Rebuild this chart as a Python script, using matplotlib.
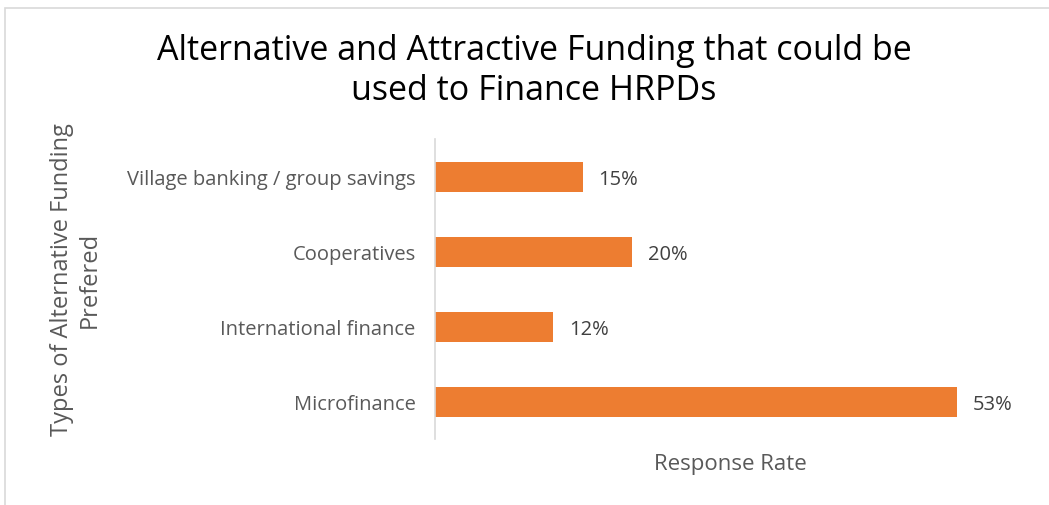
import matplotlib.pyplot as plt
from matplotlib.patches import Rectangle

categories = ["Microfinance", "International finance", "Cooperatives", "Village banking / group savings"]
values = [0.53, 0.12, 0.20, 0.15]
value_labels = ["53%", "12%", "20%", "15%"]

plt.rcParams['font.family'] = ['Open Sans', 'DejaVu Sans']

W, H = 1049, 506
fig = plt.figure(figsize=(W / 100, H / 100), dpi=100)

# chart border (light gray frame)
fig.patches.append(Rectangle((5 / W, -0.01), 1.1, 1 - 9 / H + 0.01, transform=fig.transFigure,
                             fill=False, edgecolor="#d9d9d9", linewidth=1.2))

ax = fig.add_axes([435 / W, 1 - 440 / H, 591 / W, 300 / H])
ax.barh(range(len(categories)), values, height=0.4, color="#ed7d31")
ax.set_xlim(0, 0.6)
ax.set_ylim(-0.5, 3.5)

for i, (v, lab) in enumerate(zip(values, value_labels)):
    ax.text(v + 0.016, i - 0.03, lab, va="center", ha="left", fontsize=14.5, color="#404040")

ax.set_yticks(range(len(categories)))
ax.set_yticklabels(categories, fontsize=14.5, color="#595959")
ax.tick_params(axis="y", length=0, pad=14)
ax.set_xticks([])
for s in ["top", "right", "bottom"]:
    ax.spines[s].set_visible(False)
ax.spines["left"].set_color("#d9d9d9")
ax.spines["left"].set_linewidth(1.2)

ax.set_xlabel("Response Rate", fontsize=16, color="#595959", labelpad=10)

fig.text(76 / W, 1 - 280 / H, "Types of Alternative Funding\nPrefered", rotation=90,
         ha="center", va="center", fontsize=17, color="#595959", linespacing=1.25)

fig.text(534 / W, 1 - 71 / H, "Alternative and Attractive Funding that could be\nused to Finance HRPDs",
         ha="center", va="center", fontsize=24.5, color="#000000", linespacing=1.25)

fig.savefig("out.png", dpi=100, facecolor="white")
